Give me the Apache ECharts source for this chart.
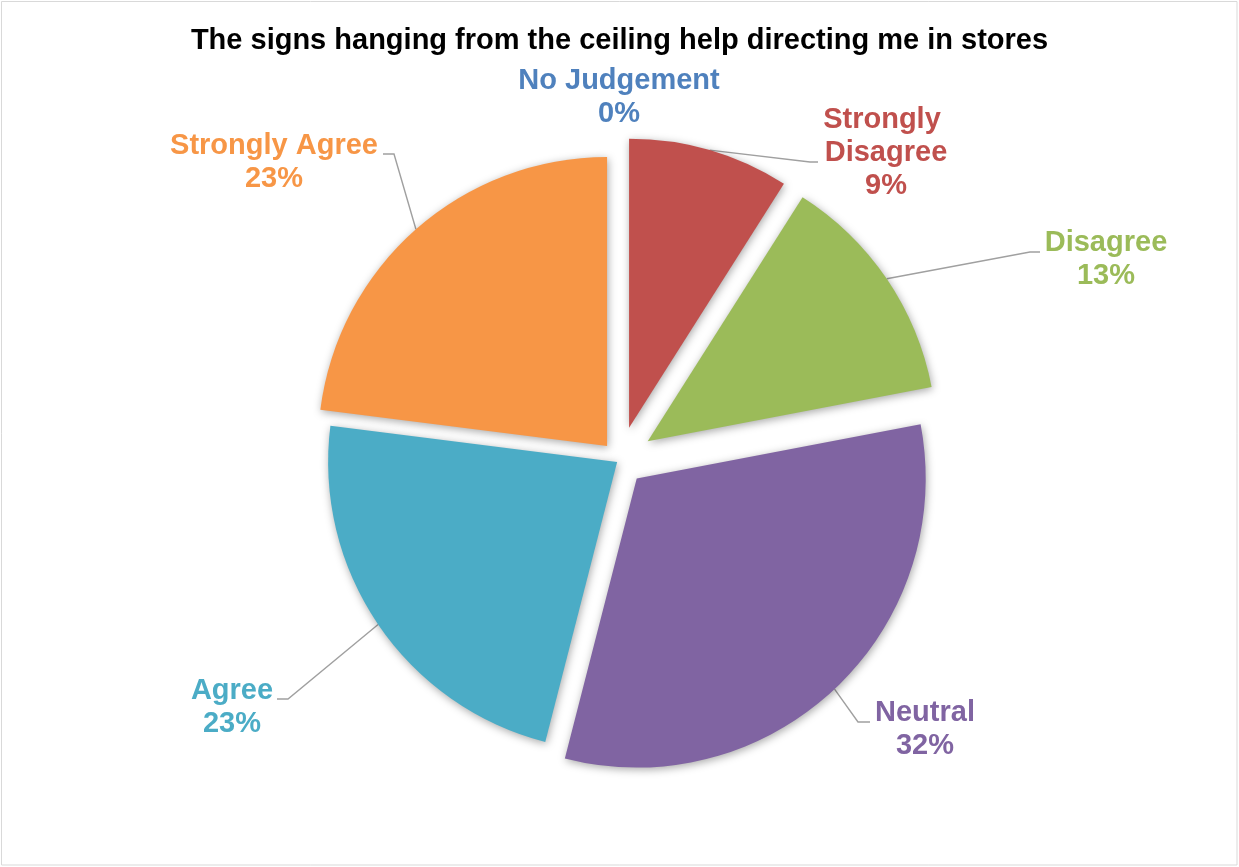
<!DOCTYPE html>
<html>
<head>
<meta charset="utf-8">
<script src="https://cdn.jsdelivr.net/npm/echarts@6/dist/echarts.min.js"></script>
<style>
  html, body { margin: 0; padding: 0; background: #ffffff; }
  #chart { width: 1239px; height: 867px; }
</style>
</head>
<body>
<div id="chart"></div>
<script>
// Survey answers, clockwise from 12 o'clock
const categories = ['No Judgement', 'Strongly Disagree', 'Disagree', 'Neutral', 'Agree', 'Strongly Agree'];
const shares = [0, 9, 13, 32, 23, 23];
const colors = ['#4F81BD', '#C0504D', '#9BBB59', '#8064A2', '#4BACC6', '#F79646'];

// How far each slice is pulled out from the pie centre (px)
const explode = [0, 34, 34, 25, 3, 19];
// Centre of each label block, and the elbow / end of its leader line
const labelAt = [[619, 97], [886, 153], [1106, 259], [925, 729], [232, 707], [274, 162]];
const leaderTail = [null, [[810, 162], [818, 162]], [[1030, 252], [1040, 252]], [[858, 722], [870, 722]], [[288, 699], [277, 699]], [[394, 154], [383, 154]]];

const CX = 619.6, CY = 460.3, R = 289;
const FONT = '"Liberation Sans", Arial, sans-serif';

const total = shares.reduce((a, b) => a + b, 0);
// mid angle of each slice, clockwise from the top, in radians
const midAngles = [];
let acc = 0;
shares.forEach(v => { midAngles.push((acc + v / 2) / total * Math.PI * 2); acc += v; });

function sliceSeries(i) {
  const a = midAngles[i];
  const ox = CX + Math.sin(a) * explode[i];
  const oy = CY - Math.cos(a) * explode[i];
  const arcX = ox + Math.sin(a) * R;
  const arcY = oy - Math.cos(a) * R;
  return {
    type: 'pie',
    center: [ox, oy],
    radius: [0, R],
    startAngle: 90,
    clockwise: true,
    avoidLabelOverlap: false,
    silent: true,
    animation: false,
    emphasis: { disabled: true },
    data: categories.map((name, j) => {
      const own = j === i;
      return {
        name: name,
        value: shares[j],
        itemStyle: own ? {
          color: colors[j],
          shadowBlur: 9,
          shadowColor: 'rgba(0,0,0,0.35)',
          shadowOffsetX: 1,
          shadowOffsetY: 2
        } : { color: 'rgba(0,0,0,0)', shadowBlur: 0 },
        label: own ? {
          show: true,
          position: 'outside',
          color: colors[j],
          fontFamily: FONT,
          fontWeight: 'bold',
          fontSize: 29,
          lineHeight: 33,
          align: 'center',
          width: name === 'Strongly Disagree' ? 140 : undefined,
          overflow: name === 'Strongly Disagree' ? 'break' : 'none',
          formatter: p => p.name + '\n' + p.value + '%'
        } : { show: false },
        labelLine: own && leaderTail[j] ? {
          show: true,
          lineStyle: { color: '#A0A0A0', width: 1.4 }
        } : { show: false }
      };
    }),
    labelLayout: function () {
      const out = {
        x: labelAt[i][0],
        y: labelAt[i][1],
        align: 'center',
        verticalAlign: 'middle'
      };
      if (leaderTail[i]) {
        out.labelLinePoints = [[arcX, arcY], leaderTail[i][0], leaderTail[i][1]];
      }
      return out;
    }
  };
}

const chart = echarts.init(document.getElementById('chart'), null, { renderer: 'canvas' });
chart.setOption({
  backgroundColor: '#ffffff',
  animation: false,
  title: {
    text: 'The signs hanging from the ceiling help directing me in stores',
    left: 'center',
    top: 21,
    textStyle: { fontFamily: FONT, fontWeight: 'bold', fontSize: 29, color: '#000000' }
  },
  graphic: [{
    type: 'rect',
    shape: { x: 1.5, y: 1.5, width: 1235.5, height: 863.5 },
    style: { fill: 'none', stroke: '#D9D9D9', lineWidth: 1 },
    silent: true
  }],
  series: categories.map((_, i) => sliceSeries(i))
});
</script>
</body>
</html>
